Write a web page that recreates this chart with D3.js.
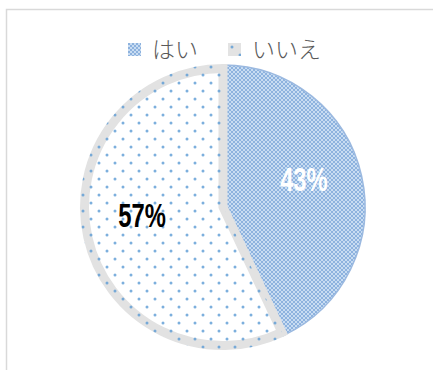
<!DOCTYPE html>
<html>
<head>
  <meta charset="utf-8">
  <style>
    body { margin: 0; background: #fff; }
    .legend text { font-family: "Noto Sans CJK JP", sans-serif; font-weight: 300; font-size: 23px; fill: #595959; }
    .label { font-family: "Liberation Sans", Arial, sans-serif; font-weight: bold; font-size: 34px; }
  </style>
</head>
<body>
  <svg width="433" height="370"></svg>
  <script src="https://d3js.org/d3.v7.min.js"></script>
  <script>

    var categories = ["はい", "いいえ"];
    var values = [43, 57];
    var labels = ["43%", "57%"];

    var svg = d3.select("svg"),
    width = +svg.attr("width"),
    height = +svg.attr("height");

    var defs = svg.append("defs");

    // checker pattern for はい
    var checker = defs.append("pattern")
    .attr("id", "checker")
    .attr("patternUnits", "userSpaceOnUse")
    .attr("width", 4)
    .attr("height", 4);
    checker.append("rect").attr("width", 4).attr("height", 4).attr("fill", "#c8dcf2");
    checker.append("rect").attr("width", 2).attr("height", 2).attr("fill", "#8db2de");
    checker.append("rect").attr("x", 2).attr("y", 2).attr("width", 2).attr("height", 2).attr("fill", "#8db2de");

    // dot pattern for いいえ
    var dots = defs.append("pattern")
    .attr("id", "dots")
    .attr("patternUnits", "userSpaceOnUse")
    .attr("width", 16)
    .attr("height", 16);
    dots.append("circle").attr("cx", 4).attr("cy", 4).attr("r", 1.5).attr("fill", "#5b9bd5").attr("fill-opacity", 0.8);
    dots.append("circle").attr("cx", 12).attr("cy", 12).attr("r", 1.5).attr("fill", "#5b9bd5").attr("fill-opacity", 0.8);

    // chart area border
    svg.append("path")
    .attr("d", "M6.5," + height + "V9.5H" + width)
    .attr("fill", "none")
    .attr("stroke", "#d9d9d9")
    .attr("stroke-width", 1.5);

    var cx = 223, cy = 207, r = 143;

    var pie = d3.pie().sort(null).value(function(d) { return d; });
    var arcs = pie(values);

    var g = svg.append("g").attr("transform", "translate(" + cx + "," + cy + ")");

    var inner = d3.arc().innerRadius(0).outerRadius(r - 4.5);
    var outer = d3.arc().innerRadius(0).outerRadius(r);
    var blueArc = d3.arc().innerRadius(0).outerRadius(r - 1);

    // はい slice
    g.append("path")
    .attr("d", blueArc(arcs[0]))
    .attr("fill", "url(#checker)")
    .attr("stroke", "#9bb9e0")
    .attr("stroke-width", 1.5);

    // いいえ slice
    g.append("path")
    .attr("d", inner(arcs[1]))
    .attr("fill", "#fff")
    .attr("stroke", "#e2e2e2")
    .attr("stroke-width", 9);

    g.append("path")
    .attr("d", outer(arcs[1]))
    .attr("fill", "url(#dots)");

    var labelArc = d3.arc().innerRadius(r * 0.58).outerRadius(r * 0.58);

    g.selectAll(".label")
    .data(arcs)
    .enter().append("text")
    .attr("class", "label")
    .attr("transform", function(d) { var c = labelArc.centroid(d); return "translate(" + c[0] + "," + (c[1] - 10) + ") scale(0.7,1)"; })
    .attr("text-anchor", "middle")
    .attr("dy", "0.36em")
    .attr("fill", function(d, i) { return i === 0 ? "#fff" : "#000"; })
    .text(function(d, i) { return labels[i]; });

    // legend
    var legend = svg.append("g").attr("class", "legend");
    var lx = [128, 228];

    categories.forEach(function(c, i) {
      var item = legend.append("g").attr("transform", "translate(" + lx[i] + ",43)");
      if (i === 0) {
        item.append("rect").attr("width", 13).attr("height", 13).attr("fill", "url(#checker)");
      } else {
        item.append("rect").attr("width", 13).attr("height", 13).attr("fill", "#e3e3e3");
        item.append("rect").attr("width", 13).attr("height", 13).attr("fill", "url(#dots)");
      }
      item.append("text")
      .attr("x", 24)
      .attr("y", 6.5)
      .attr("dy", "0.36em")
      .text(c);
    });

  </script>
</body>
</html>
